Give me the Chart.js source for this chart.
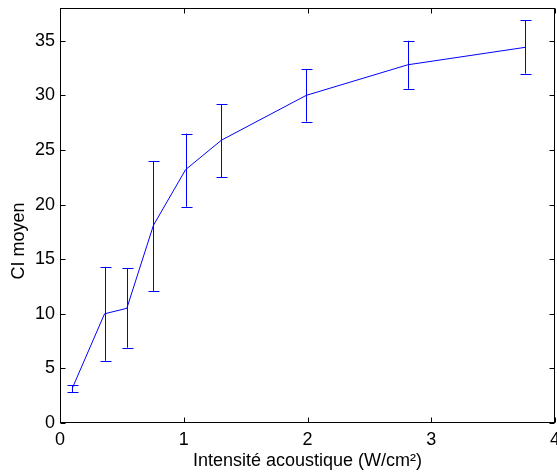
<!DOCTYPE html>
<html>
<head>
<meta charset="utf-8">
<script src="https://cdn.jsdelivr.net/npm/chart.js@4"></script>
<style>
  html, body { margin: 0; padding: 0; background: #fff; }
</style>
</head>
<body>
<canvas id="myChart" width="557" height="472"></canvas>
<script>
// intensité (W/cm²), CI moyen, and error bar ends
const intensity = [0.1, 0.36, 0.54, 0.755, 1.015, 1.305, 1.99, 2.81, 3.76];
const ciMean    = [3.2, 10.0, 10.5, 18.1, 23.2, 25.9, 30.0, 32.8, 34.4];
const ciHigh    = [3.45, 14.3, 14.2, 24.0, 26.5, 29.2, 32.4, 35.0, 36.9];
const ciLow     = [2.8, 5.7, 6.9, 12.1, 19.8, 22.5, 27.6, 30.6, 32.0];
const xTicks = [0, 1, 2, 3, 4];
const yTicks = [0, 5, 10, 15, 20, 25, 30, 35];

const FONT = "'Liberation Sans', Arial, Helvetica, sans-serif";

// error bars + box with inward ticks + y label, MATLAB style
const matlabAxes = {
    id: 'matlabAxes',
    afterDatasetsDraw(chart) {
        const ctx = chart.ctx;
        const x = chart.scales.x, y = chart.scales.y;
        const a = chart.chartArea;

        ctx.save();
        ctx.strokeStyle = '#0000ff';
        ctx.lineWidth = 1;
        intensity.forEach((v, i) => {
            const px = Math.round(x.getPixelForValue(v)) + 0.5;
            const top = y.getPixelForValue(ciHigh[i]);
            const bot = y.getPixelForValue(ciLow[i]);
            ctx.beginPath();
            ctx.moveTo(px, top); ctx.lineTo(px, bot);
            ctx.moveTo(px - 5, Math.round(top) + 0.5); ctx.lineTo(px + 6, Math.round(top) + 0.5);
            ctx.moveTo(px - 5, Math.round(bot) + 0.5); ctx.lineTo(px + 6, Math.round(bot) + 0.5);
            ctx.stroke();
        });

        ctx.strokeStyle = '#000';
        const L = Math.round(a.left) + 0.5, R = Math.round(a.right) - 0.5;
        const T = Math.round(a.top) + 0.5, B = Math.round(a.bottom) - 0.5;
        ctx.strokeRect(L, T, R - L, B - T);
        ctx.beginPath();
        xTicks.forEach(v => {
            const px = Math.round(x.getPixelForValue(v)) + 0.5;
            ctx.moveTo(px, B); ctx.lineTo(px, B - 5);
            ctx.moveTo(px, T); ctx.lineTo(px, T + 5);
        });
        yTicks.forEach(v => {
            const py = Math.round(y.getPixelForValue(v)) + 0.5;
            ctx.moveTo(L, py); ctx.lineTo(L + 5, py);
            ctx.moveTo(R, py); ctx.lineTo(R - 5, py);
        });
        ctx.stroke();

        ctx.fillStyle = '#000';
        ctx.font = '18px ' + FONT;
        ctx.textAlign = 'center';
        ctx.textBaseline = 'alphabetic';
        ctx.translate(24, 241);
        ctx.rotate(-Math.PI / 2);
        ctx.fillText('CI moyen', 0, 0);
        ctx.restore();
    }
};

const ctx = document.getElementById('myChart').getContext('2d');

new Chart(ctx, {
    type: 'line',
    data: {
        datasets: [{
            data: intensity.map((v, i) => ({ x: v, y: ciMean[i] })),
            borderColor: '#0000ff',
            borderWidth: 1,
            pointRadius: 0,
            fill: false,
            tension: 0
        }]
    },
    options: {
        responsive: false,
        animation: false,
        devicePixelRatio: 1,
        layout: { padding: { top: 8, right: 2, left: 0, bottom: 0 } },
        plugins: { legend: { display: false }, tooltip: { enabled: false } },
        scales: {
            x: {
                type: 'linear',
                min: 0, max: 4,
                afterBuildTicks: s => { s.ticks = xTicks.map(v => ({ value: v })); },
                afterFit: s => { s.height = 49; s.paddingLeft = 0; s.paddingRight = 0; },
                grid: { display: false, drawTicks: false },
                border: { display: false },
                ticks: { color: '#000', font: { size: 18, family: FONT }, padding: 6, maxRotation: 0 },
                title: {
                    display: true,
                    text: 'Intensité acoustique (W/cm²)',
                    color: '#000',
                    font: { size: 18, family: FONT },
                    padding: { top: 0, bottom: 0 }
                }
            },
            y: {
                min: 0, max: 38,
                afterBuildTicks: s => { s.ticks = yTicks.map(v => ({ value: v })); },
                afterFit: s => { s.width = 60; s.paddingTop = 0; s.paddingBottom = 0; },
                grid: { display: false, drawTicks: false },
                border: { display: false },
                ticks: { color: '#000', font: { size: 18, family: FONT }, padding: 5 }
            }
        }
    },
    plugins: [matlabAxes]
});
</script>
</body>
</html>
